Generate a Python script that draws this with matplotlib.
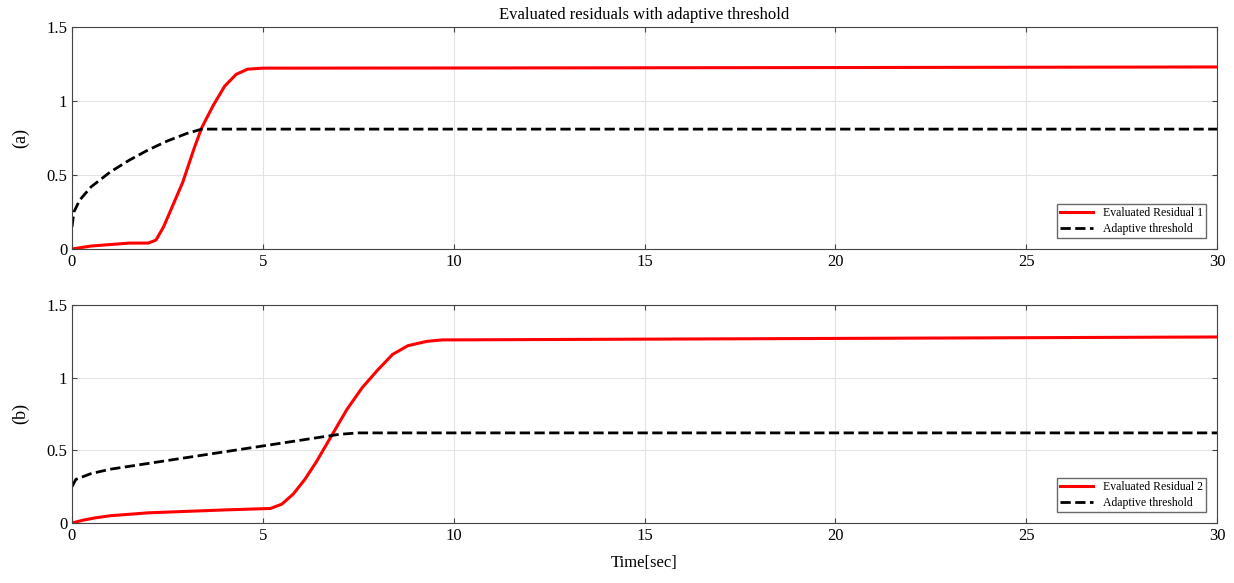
import matplotlib
matplotlib.use("Agg")
import matplotlib.pyplot as plt
import numpy as np

plt.rcParams['font.family'] = ['Liberation Serif', 'DejaVu Serif']

# values
t1_res = [0, 0.5, 1, 1.5, 2, 2.2, 2.4, 2.6, 2.9, 3.2, 3.4, 3.7, 4.0, 4.3, 4.6, 5, 10, 20, 30]
r1 = [0, 0.02, 0.03, 0.04, 0.04, 0.06, 0.15, 0.27, 0.45, 0.68, 0.82, 0.97, 1.1, 1.18, 1.215, 1.222, 1.223, 1.226, 1.23]
t1_thr = [0, 0.05, 0.2, 0.5, 1, 1.5, 2, 2.5, 3, 3.4, 30]
th1 = [0.15, 0.25, 0.33, 0.42, 0.52, 0.6, 0.67, 0.73, 0.78, 0.81, 0.81]

t2_res = [0, 0.3, 0.6, 1, 2, 3, 4, 5.2, 5.5, 5.8, 6.1, 6.4, 6.8, 7.2, 7.6, 8.0, 8.4, 8.8, 9.3, 9.7, 10, 20, 30]
r2 = [0, 0.02, 0.035, 0.05, 0.07, 0.08, 0.09, 0.1, 0.13, 0.2, 0.3, 0.42, 0.6, 0.78, 0.93, 1.05, 1.16, 1.22, 1.25, 1.26, 1.26, 1.27, 1.28]
t2_thr = [0, 0.1, 0.5, 1, 2, 3, 4, 5, 6, 7, 7.5, 30]
th2 = [0.25, 0.3, 0.34, 0.37, 0.41, 0.45, 0.49, 0.53, 0.57, 0.61, 0.62, 0.62]

fig = plt.figure(figsize=(12.34, 5.83), dpi=100)
ax1 = fig.add_axes([72/1234, 1-249/583, 1145/1234, 222/583])
ax2 = fig.add_axes([72/1234, 1-523/583, 1145/1234, 218/583])

panels = [(ax1, t1_res, r1, t1_thr, th1, '(a)', 'Evaluated Residual 1'),
          (ax2, t2_res, r2, t2_thr, th2, '(b)', 'Evaluated Residual 2')]
for ax, tr, r, tt, th, lab, name in panels:
    ax.plot(tr, r, color='red', lw=2.2, label=name)
    ax.plot(tt, th, color='black', lw=2, ls='--', label='Adaptive threshold')
    ax.set_xlim(0, 30)
    ax.set_ylim(0, 1.5)
    ax.set_xticks([0, 5, 10, 15, 20, 25, 30])
    ax.set_yticks([0, 0.5, 1, 1.5])
    ax.set_yticklabels(['0', '0.5', '1', '1.5'])
    ax.grid(True, color='#e3e3e3', lw=0.8)
    ax.tick_params(labelsize=12, direction='in', color='#444444', top=True, right=True)
    for s in ax.spines.values():
        s.set_color('#444444')
    ax.set_ylabel(lab, fontsize=13, labelpad=12)
    ax.legend(loc='lower right', fontsize=8.5, frameon=True, fancybox=False,
              edgecolor='#444444', borderaxespad=0.9, handlelength=2.8,
              labelspacing=0.3, borderpad=0.3)

ax1.set_title('Evaluated residuals with adaptive threshold', fontsize=12)
ax2.set_xlabel('Time[sec]', fontsize=12, labelpad=8)

fig.savefig('out.png', dpi=100)
